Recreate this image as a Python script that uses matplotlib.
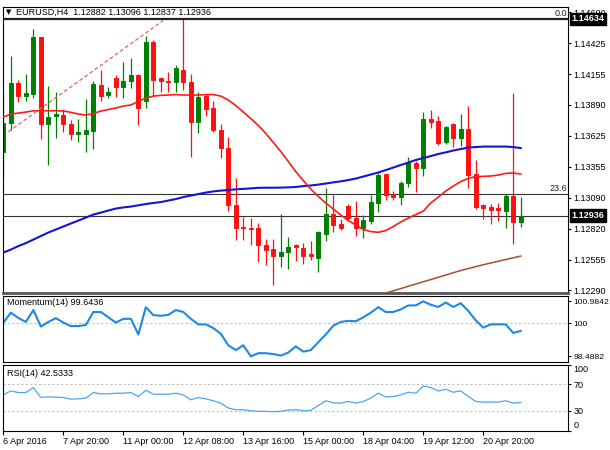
import numpy as np
import matplotlib.pyplot as plt

plt.rcParams['font.family'] = ['Liberation Sans', 'DejaVu Sans']

# Header
symbol = 'EURUSD,H4'
last_ohlc = [1.12882, 1.13096, 1.12837, 1.12936]

# H4 candles
opens = [1.13486, 1.13732, 1.14077, 1.13967, 1.13981, 1.14474, 1.13723, 1.13797, 1.13803, 1.13726,
         1.13637, 1.13637, 1.13665, 1.14062, 1.13973, 1.14125, 1.14047, 1.14099, 1.14149, 1.13924,
         1.14433, 1.14120, 1.14101, 1.14088, 1.14196, 1.14091, 1.13743, 1.13967, 1.13868, 1.13678,
         1.13516, 1.13026, 1.12834, 1.12832, 1.12828, 1.12681, 1.12644, 1.12586, 1.12623, 1.12681,
         1.12658, 1.12601, 1.12571, 1.12773, 1.12946, 1.12860, 1.13020, 1.12917, 1.12825, 1.12888,
         1.13041, 1.13291, 1.13121, 1.13098, 1.13214, 1.13391, 1.13343, 1.13766, 1.13751, 1.13568,
         1.13723, 1.13607, 1.13680, 1.13294, 1.13026, 1.13012, 1.12998, 1.12977, 1.13104, 1.12882]
highs = [1.14010, 1.14317, 1.14105, 1.14157, 1.14543, 1.14479, 1.14056, 1.13999, 1.13855, 1.13760,
         1.13766, 1.13939, 1.14097, 1.14192, 1.14047, 1.14149, 1.14263, 1.14293, 1.14157, 1.14485,
         1.14451, 1.14134, 1.14174, 1.14235, 1.14634, 1.14155, 1.14002, 1.13982, 1.13924, 1.13726,
         1.13618, 1.13257, 1.12923, 1.12914, 1.12872, 1.12733, 1.12730, 1.12949, 1.12753, 1.12690,
         1.12701, 1.12715, 1.12802, 1.13170, 1.13113, 1.12905, 1.13035, 1.13061, 1.12940, 1.13113,
         1.13300, 1.13294, 1.13147, 1.13233, 1.13443, 1.13406, 1.13827, 1.13846, 1.13797, 1.13708,
         1.13731, 1.13809, 1.13883, 1.13415, 1.13032, 1.13032, 1.13041, 1.13119, 1.13991, 1.13096]
lows = [1.13259, 1.13674, 1.13918, 1.13924, 1.13947, 1.13593, 1.13372, 1.13602, 1.13659, 1.13587,
        1.13573, 1.13486, 1.13510, 1.13924, 1.13947, 1.13961, 1.13947, 1.14039, 1.13717, 1.13864,
        1.13967, 1.14004, 1.14002, 1.14004, 1.14019, 1.13443, 1.13645, 1.13795, 1.13656, 1.13432,
        1.12979, 1.12724, 1.12724, 1.12681, 1.12537, 1.12508, 1.12336, 1.12488, 1.12471, 1.12543,
        1.12514, 1.12551, 1.12445, 1.12715, 1.12796, 1.12811, 1.12897, 1.12761, 1.12739, 1.12860,
        1.12963, 1.13070, 1.13070, 1.13026, 1.13184, 1.13141, 1.13279, 1.13688, 1.13544, 1.13550,
        1.13530, 1.13536, 1.13176, 1.12992, 1.12905, 1.12860, 1.12888, 1.12825, 1.12687, 1.12837]
closes = [1.13732, 1.14077, 1.13970, 1.13993, 1.14474, 1.13723, 1.13789, 1.13809, 1.13723, 1.13637,
          1.13654, 1.13674, 1.14068, 1.13967, 1.14004, 1.14047, 1.14097, 1.14149, 1.13864, 1.14433,
          1.14105, 1.14094, 1.14091, 1.14206, 1.14088, 1.13740, 1.13961, 1.13859, 1.13674, 1.13518,
          1.13026, 1.12832, 1.12825, 1.12823, 1.12681, 1.12638, 1.12586, 1.12623, 1.12666, 1.12668,
          1.12589, 1.12589, 1.12791, 1.12946, 1.12854, 1.12825, 1.12917, 1.12830, 1.12897, 1.13050,
          1.13285, 1.13113, 1.13098, 1.13219, 1.13391, 1.13348, 1.13766, 1.13745, 1.13559, 1.13702,
          1.13607, 1.13680, 1.13285, 1.13012, 1.13003, 1.12983, 1.12983, 1.13104, 1.12877, 1.12936]

# moving averages
ma_red = [1.13786, 1.13812, 1.13820, 1.13829, 1.13840, 1.13840, 1.13840, 1.13840, 1.13838, 1.13827,
          1.13812, 1.13803, 1.13816, 1.13838, 1.13851, 1.13864, 1.13881, 1.13890, 1.13920, 1.13950,
          1.13967, 1.13973, 1.13976, 1.13980, 1.13976, 1.13976, 1.13976, 1.13980, 1.13980, 1.13967,
          1.13933, 1.13885, 1.13829, 1.13773, 1.13713, 1.13644, 1.13566, 1.13488, 1.13402, 1.13315,
          1.13238, 1.13164, 1.13100, 1.13044, 1.12992, 1.12940, 1.12892, 1.12854, 1.12815, 1.12797,
          1.12791, 1.12806, 1.12841, 1.12880, 1.12914, 1.12944, 1.12974, 1.13044, 1.13095, 1.13147,
          1.13190, 1.13229, 1.13257, 1.13271, 1.13274, 1.13277, 1.13285, 1.13300, 1.13303, 1.13294]
ma_blue = [1.12616, 1.12642, 1.12672, 1.12698, 1.12728, 1.12759, 1.12789, 1.12815, 1.12841, 1.12867,
           1.12892, 1.12918, 1.12944, 1.12961, 1.12979, 1.12996, 1.13006, 1.13013, 1.13024, 1.13035,
           1.13044, 1.13052, 1.13065, 1.13078, 1.13095, 1.13108, 1.13121, 1.13134, 1.13144, 1.13151,
           1.13156, 1.13162, 1.13166, 1.13170, 1.13175, 1.13176, 1.13176, 1.13177, 1.13179, 1.13182,
           1.13190, 1.13195, 1.13203, 1.13212, 1.13222, 1.13231, 1.13242, 1.13255, 1.13272, 1.13290,
           1.13307, 1.13328, 1.13350, 1.13372, 1.13393, 1.13415, 1.13432, 1.13449, 1.13467, 1.13481,
           1.13497, 1.13510, 1.13523, 1.13527, 1.13531, 1.13531, 1.13531, 1.13531, 1.13527, 1.13518]
ma_brown = [np.nan] * 51 + [1.12267, 1.12286, 1.12305, 1.12325, 1.12344, 1.12364, 1.12383, 1.12403,
                            1.12422, 1.12442, 1.12461, 1.12478, 1.12495, 1.12511, 1.12526, 1.12541,
                            1.12556, 1.12571, 1.12586]

momentum = [100.02, 100.47, 100.23, 100.05, 100.59, 99.84, 100.05, 100.22, 100.02, 99.86,
            99.86, 99.91, 100.50, 100.50, 100.26, 100.02, 100.19, 100.19, 99.48, 100.72,
            100.36, 100.33, 100.37, 100.59, 100.50, 100.19, 99.94, 99.94, 99.77, 99.51,
            98.99, 98.77, 98.99, 98.4882, 98.63, 98.63, 98.59, 98.52, 98.66, 98.94,
            98.70, 98.77, 99.13, 99.48, 99.88, 100.05, 100.10, 100.08, 100.26, 100.47,
            100.72, 100.50, 100.50, 100.62, 100.80, 100.80, 100.9842, 100.83, 100.73, 100.93,
            100.73, 100.90, 100.55, 100.12, 99.79, 99.94, 99.94, 99.94, 99.55, 99.6436]
rsi = [54, 60, 57.5, 57.5, 65, 50, 51, 50.5, 50, 47.5,
       48, 49, 57.5, 55.5, 55.5, 56.5, 56.5, 57.5, 51.5, 61,
       55, 55, 55, 56.5, 54, 46.5, 50, 48, 45, 41.5,
       34, 31.5, 31.5, 30, 29, 29, 28.5, 29, 31, 31.5,
       30, 30.5, 38, 45, 42, 41.5, 44, 41.5, 44, 49,
       56.5, 51, 51.5, 54, 58, 56.5, 67.5, 65, 60, 62.5,
       58, 60, 51.5, 44, 43, 43, 43, 45, 41.5, 42.5333]

date_labels = ['6 Apr 2016', '7 Apr 20:00', '11 Apr 00:00', '12 Apr 08:00', '13 Apr 16:00',
               '15 Apr 00:00', '18 Apr 04:00', '19 Apr 12:00', '20 Apr 20:00']
date_step = 8

price_ticks = [1.14690, 1.14425, 1.14155, 1.13890, 1.13625, 1.13355, 1.13090, 1.12820, 1.12555, 1.12290]
mom_ticks = [100.9842, 100, 98.4882]
rsi_ticks = [100, 70, 30, 0]

fib_names = ['0.0', '23.6']
fib_prices = [1.14634, 1.13124]
trend_x = [0.67, 21.3]
trend_y = [1.13659, 1.14619]

GREEN = '#008000'
RED = '#ff1010'
FS = 6.5

o = np.array(opens); h = np.array(highs); l = np.array(lows); c = np.array(closes)
x = np.arange(len(o))

fig = plt.figure(figsize=(6.1, 4.5), dpi=100)
W, H = 610.0, 450.0


def panel(top, bottom):
    return fig.add_axes([3 / W, 1 - bottom / H, 565 / W, (bottom - top) / H])


ax = panel(7, 293)
axm = panel(295.5, 362)
axr = panel(364.5, 430.5)

for a in (ax, axm, axr):
    a.set_xlim(-0.05, 75.3)
    a.yaxis.tick_right()
    a.tick_params(axis='y', direction='out', length=2.5, width=0.8, pad=1.5, labelsize=FS)
    a.tick_params(axis='x', direction='out', length=3, width=0.8, pad=1.5, labelsize=FS)
    for s in a.spines.values():
        s.set_linewidth(0.8)
        s.set_color('black')
ax.set_xticks([])
axm.set_xticks([])
ax.spines['bottom'].set_linewidth(2)
ax.spines['bottom'].set_color('#555555')

# main price panel
ax.set_ylim(1.12267, 1.14736)
ax.set_yticks(price_ticks)
ax.set_yticklabels(['%.5f' % p for p in price_ticks])

cols = np.where(c >= o, GREEN, RED)
ax.vlines(x, l, h, colors=cols, lw=0.9, zorder=2)
ax.bar(x, np.abs(c - o), bottom=np.minimum(o, c), width=0.52, color=cols,
       edgecolor=cols, lw=0.7, zorder=2)

ax.plot(x, ma_blue, color='#1414d2', lw=1.5, zorder=3)
ax.plot(x, ma_red, color='#ff1a1a', lw=1.2, zorder=3)
ax.plot(x, ma_brown, color='#a0522d', lw=1.1, zorder=3)
ax.plot(trend_x, trend_y, color='#e06060', lw=0.9, ls=(0, (3, 2)), zorder=3)

# fibo levels and bid line
ax.axhline(fib_prices[0], color='#222222', lw=1.6, zorder=4)
ax.axhline(fib_prices[1], color='#333333', lw=0.8, zorder=1)
ax.axhline(last_ohlc[3], color='#333333', lw=0.8, zorder=1)
for name, p in zip(fib_names, fib_prices):
    ax.text(0.998, p + 0.00005, name, transform=ax.get_yaxis_transform(), ha='right',
            va='bottom', fontsize=FS, color='#222222')

# black price boxes on the axis
for p in (fib_prices[0], last_ohlc[3]):
    ax.text(1.006, p, '%.5f' % p, transform=ax.get_yaxis_transform(), ha='left', va='center',
            fontsize=FS, color='white', fontweight='bold', clip_on=False, zorder=10,
            bbox=dict(boxstyle='square,pad=0.18', fc='black', ec='black'))

fig.text(6 / W, 1 - 12 / H, '\u25bc', fontsize=5, va='center', family=['DejaVu Sans'])
fig.text(16 / W, 1 - 12 / H, '%s  %s' % (symbol, ' '.join('%.5f' % v for v in last_ohlc)),
         fontsize=FS, va='center')

# momentum panel
axm.set_ylim(98.23, 101.25)
axm.set_yticks(mom_ticks)
axm.set_yticklabels(['100.9842', '100', '98.4882'])
axm.tick_params(axis='y', labelsize=6.1)
axm.axhline(100, color='#c0c0c0', lw=0.8, ls=(0, (2, 2)))
axm.plot(x, momentum, color='#1e88e5', lw=1.5)
axm.text(0.007, 0.9, 'Momentum(14) %.4f' % momentum[-1], transform=axm.transAxes,
         fontsize=FS, va='center')

# RSI panel
axr.set_ylim(0, 100)
axr.set_yticks(rsi_ticks)
axr.set_yticklabels([str(v) for v in rsi_ticks])
lbls = axr.get_yticklabels()
lbls[0].set_va('top')
lbls[-1].set_va('bottom')
for lv in (70, 30):
    axr.axhline(lv, color='#c0c0c0', lw=0.8, ls=(0, (2, 2)))
axr.plot(x, rsi, color='#4ea5f2', lw=0.9)
axr.text(0.007, 0.87, 'RSI(14) %.4f' % rsi[-1], transform=axr.transAxes,
         fontsize=FS, va='center')

axr.set_xticks(np.arange(len(date_labels)) * date_step)
axr.set_xticklabels(date_labels, ha='left')

fig.savefig('out.png', dpi=100)
